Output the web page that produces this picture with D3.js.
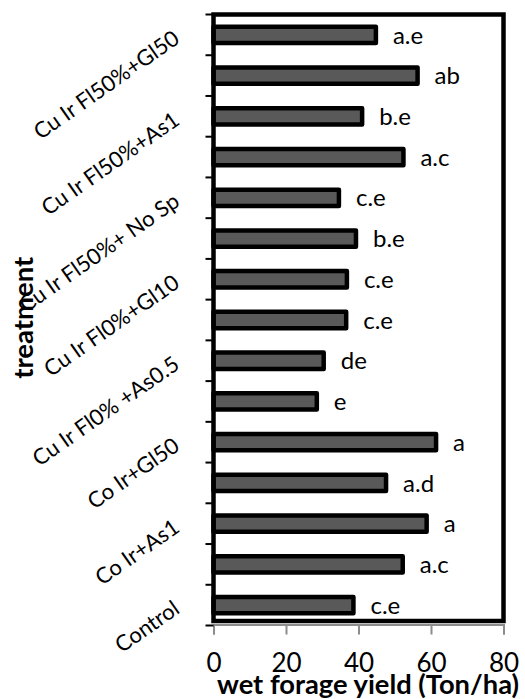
<!DOCTYPE html>
<html>
<head>
<meta charset="utf-8">
<script src="https://cdn.jsdelivr.net/npm/d3@7"></script>
<style>
  html, body { margin: 0; padding: 0; background: #ffffff; }
  svg { display: block; }
  text { font-family: Lato, "Open Sans", sans-serif; fill: #000; }
</style>
</head>
<body>
<svg id="chart" width="525" height="699"></svg>
<script>
// Treatments, listed from the bottom of the chart to the top
const categories = [
  "Control",
  "Co Ir+As0.5",
  "Co Ir+As1",
  "Co Ir+Gl10",
  "Co Ir+Gl50",
  "Cu Ir Fl0%+ No Sp",
  "Cu Ir Fl0% +As0.5",
  "Cu Ir Fl0%+As1",
  "Cu Ir Fl0%+Gl10",
  "Cu Ir Fl0%+Gl50",
  "Cu Ir Fl50%+ No Sp",
  "Cu Ir Fl50%+As0.5",
  "Cu Ir Fl50%+As1",
  "Cu Ir Fl50%+Gl10",
  "Cu Ir Fl50%+Gl50"
];

// Wet forage yield (Ton/ha)
const yieldValues = [38.6, 52.2, 58.8, 47.6, 61.4, 28.5, 30.4, 36.6, 36.8, 39.3, 34.6, 52.4, 41.0, 56.3, 44.8];

// Mean separation letters
const letters = ["c.e", "a.c", "a", "a.d", "a", "e", "de", "c.e", "c.e", "b.e", "c.e", "a.c", "b.e", "ab", "a.e"];

const xTicks = [0, 20, 40, 60, 80];

const data = categories.map((c, i) => ({ cat: c, value: yieldValues[i], letter: letters[i] }));

const svg = d3.select("#chart");

const plotLeft = 213.5, plotRight = 503.5, plotTop = 14.5, plotBottom = 621;

const x = d3.scaleLinear().domain([0, 80]).range([plotLeft, plotRight]);
const y = d3.scaleBand()
  .domain(categories)
  .range([plotBottom + 4.5, plotTop])
  .paddingInner(0.6)
  .paddingOuter(0.3);

const step = y.step();

// Bars
svg.append("g")
  .selectAll("rect")
  .data(data)
  .join("rect")
  .attr("x", x(0))
  .attr("y", d => y(d.cat))
  .attr("width", d => x(d.value) - x(0))
  .attr("height", y.bandwidth())
  .attr("fill", "#595959")
  .attr("stroke", "#000")
  .attr("stroke-width", 4.5)
  .attr("stroke-linejoin", "round");

// Letters next to the bars
svg.append("g")
  .selectAll("text")
  .data(data)
  .join("text")
  .attr("x", d => x(d.value) + 17)
  .attr("y", d => y(d.cat) + y.bandwidth() / 2)
  .attr("dy", "0.36em")
  .style("font-size", "24px")
  .text(d => d.letter);

// Bottom value axis (grey)
const xAxis = d3.axisBottom(x).tickValues(xTicks).tickSize(10).tickFormat(d3.format("d"));
const gx = svg.append("g")
  .attr("transform", `translate(0,${plotBottom + 3.5})`)
  .call(xAxis);
gx.select(".domain").attr("stroke", "#8c8c8c").attr("stroke-width", 2);
gx.selectAll(".tick line").attr("stroke", "#8c8c8c").attr("stroke-width", 2);
gx.selectAll(".tick text")
  .attr("y", 0)
  .attr("dy", 0)
  .attr("transform", "translate(0,47)")
  .style("font-family", "Lato, sans-serif")
  .style("font-size", "26px")
  .attr("fill", "#000");

// Plot frame
svg.append("rect")
  .attr("x", plotLeft)
  .attr("y", plotTop)
  .attr("width", plotRight - plotLeft)
  .attr("height", plotBottom - plotTop)
  .attr("fill", "none")
  .attr("stroke", "#000")
  .attr("stroke-width", 4.5);

// Category axis tick marks at band boundaries
const bounds = d3.range(categories.length + 1).map(i => y.range()[0] - i * step);
svg.append("g")
  .selectAll("line")
  .data(bounds)
  .join("line")
  .attr("x1", plotLeft - 8)
  .attr("x2", plotLeft)
  .attr("y1", d => d)
  .attr("y2", d => d)
  .attr("stroke", "#000")
  .attr("stroke-width", 2);

// Category labels on every other band
svg.append("g")
  .selectAll("text")
  .data(categories.filter((c, i) => i % 2 === 0))
  .join("text")
  .attr("text-anchor", "end")
  .attr("transform", d => `translate(181,${y(d) + y.bandwidth() / 2 + 7}) rotate(-35)`)
  .style("font-size", "22px")
  .text(d => d);

// Axis titles
svg.append("text")
  .attr("x", 368)
  .attr("y", 694)
  .attr("text-anchor", "middle")
  .style("font-size", "27.3px")
  .style("font-weight", "bold")
  .text("wet forage yield (Ton/ha)");

svg.append("text")
  .attr("transform", `translate(33,${(plotTop + plotBottom) / 2}) rotate(-90)`)
  .attr("text-anchor", "middle")
  .style("font-size", "27.5px")
  .style("font-weight", "bold")
  .text("treatment");
</script>
</body>
</html>
